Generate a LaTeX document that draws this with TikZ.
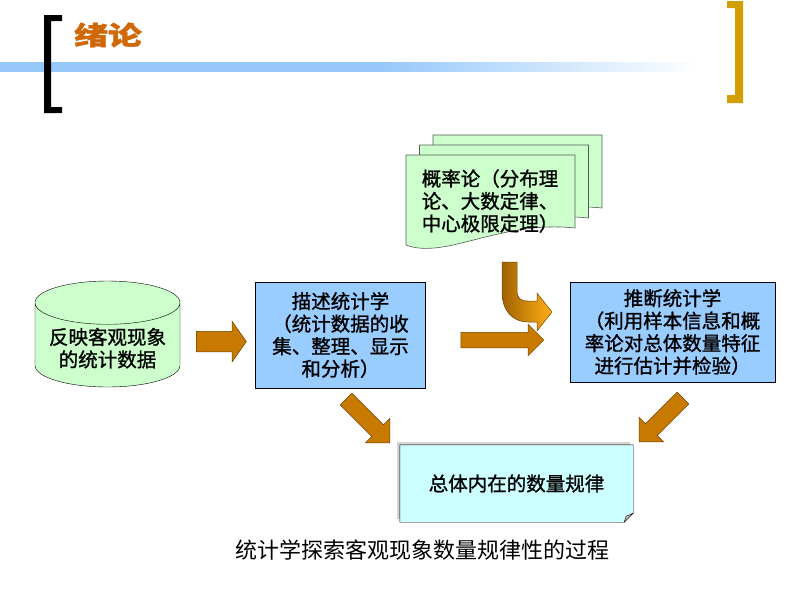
\documentclass[tikz,border=0pt]{standalone}
\usepackage{fontspec}
\setmainfont{Noto Sans CJK SC}[FakeBold=1.2]
\newfontfamily\capfont{Noto Sans CJK SC}
\usetikzlibrary{shapes.geometric,shapes.arrows,shadows,calc}

\definecolor{titleorange}{RGB}{206,104,8}
\definecolor{bracketgold}{RGB}{210,158,0}
\definecolor{bandblue}{RGB}{150,200,250}
\definecolor{boxblue}{RGB}{153,204,255}
\definecolor{pagegreen}{RGB}{204,255,204}
\definecolor{lawcyan}{RGB}{204,255,255}
\definecolor{arrowdark}{RGB}{200,122,0}
\definecolor{arrowlight}{RGB}{255,175,20}
\definecolor{arrowline}{RGB}{110,68,0}

\begin{document}
\begin{tikzpicture}[%
      x=1pt, y=-1pt,
      txt/.style={font=\fontsize{19.5}{22.5}\selectfont, align=center},
      bluebox/.style={draw=black, fill=boxblue, txt, inner sep=0},
      docpage/.style={draw=black!65, fill=pagegreen, line width=0.6pt},
      fatarrow/.style={single arrow, draw=arrowline,
        line width=0.5pt, top color=arrowdark, middle color=arrowlight,
        bottom color=arrowdark},
      ]
      \useasboundingbox (0,0) rectangle (800,600);

      % header
      \shade[left color=bandblue, right color=bandblue] (0,62) rectangle (380,71);
      \shade[left color=bandblue, right color=white] (380,62) rectangle (700,71);
      \fill[black] (44,15) -- (62,15) -- (62,21) -- (51,21) -- (51,107)
        -- (62,107) -- (62,113) -- (44,113) -- cycle;
      \fill[bracketgold] (743,1) -- (727,1) -- (727,8) -- (735,8) -- (735,95)
        -- (727,95) -- (727,103) -- (743,103) -- cycle;
      \node[font=\bfseries\fontsize{26}{26}\selectfont, text=titleorange] (title)
        at (108,35) {\scalebox{1.3}[1]{绪论}};

      % stack of pages
      \foreach \dx/\dy in {27/-20, 13.5/-10, 0/0} {
        \filldraw[docpage, shift={(\dx,\dy)}] (406,155) -- (575,155) -- (575,228)
          .. controls (500,220) and (445,260) .. (406,245) -- cycle;
      }
      \node[txt, align=left] (prob) at (490,201)
        {概率论（分布理\\论、大数定律、\\中心极限定理）};

      % boxes
      \node[cylinder, shape border rotate=90, aspect=0.35, draw=black,
        fill=pagegreen, minimum width=145, minimum height=102, txt,
        anchor=shape center] (data) at (107.5,334) {反映客观现象\\的统计数据};
      \node[bluebox, minimum width=170, minimum height=106] (desc) at (340.5,335)
        {描述统计学\\（统计数据的收\\集、整理、显示\\和分析）};
      \node[bluebox, minimum width=205, minimum height=100] (infer) at (672.5,332)
        {推断统计学\\（利用样本信息和概\\率论对总体数量特征\\进行估计并检验）};
      \node[txt, fill=lawcyan, minimum width=233, minimum height=77, inner sep=0,
        drop shadow={shadow xshift=-3pt, shadow yshift=3pt, opacity=0.35}]
        (law) at (516.5,483.5) {总体内在的数量规律};
      \fill[white] ([yshift=9]law.south east) -- (law.south east)
        -- ([xshift=-9]law.south east) -- cycle;
      \draw (law.north west) -- (law.north east) -- ([yshift=9]law.south east)
        -- ([xshift=-9]law.south east) -- (law.south west) -- cycle;
      \filldraw[fill=black!25, line width=0.4pt] ([yshift=9]law.south east)
        -- ([xshift=-9]law.south east) -- ([xshift=-7,yshift=6]law.south east) -- cycle;

      % arrows
      \node[fatarrow, minimum height=50, inner sep=10, single arrow tip angle=110,
        single arrow head extend=10] (a1) at ($(data.east)!0.5!(desc.west)$) {};
      \node[fatarrow, minimum height=83, inner sep=7.5,
        single arrow head extend=8] (a2) at (498.5,340) {};
      \node[fatarrow, minimum height=62, inner sep=8, rotate=-45,
        single arrow head extend=9] (a3) at (365,418) {};
      \node[fatarrow, minimum height=62, inner sep=8, rotate=-135,
        single arrow head extend=9] (a4) at (664,417) {};
      \shade[left color=arrowdark!80!black, right color=arrowlight, draw=arrowline,
        line width=0.5pt] (502,262) -- (517,262) -- (517,290)
        .. controls (517,298) and (520,301) .. (528,301) -- (537,301) -- (537,293)
        -- (552,312) -- (537,331) -- (537,322) -- (528,322)
        .. controls (512,322) and (502,310) .. (502,292) -- cycle;

      \node[font=\capfont\fontsize{22}{22}\selectfont] (caption) at (422,550)
        {统计学探索客观现象数量规律性的过程};
\end{tikzpicture}
\end{document}
